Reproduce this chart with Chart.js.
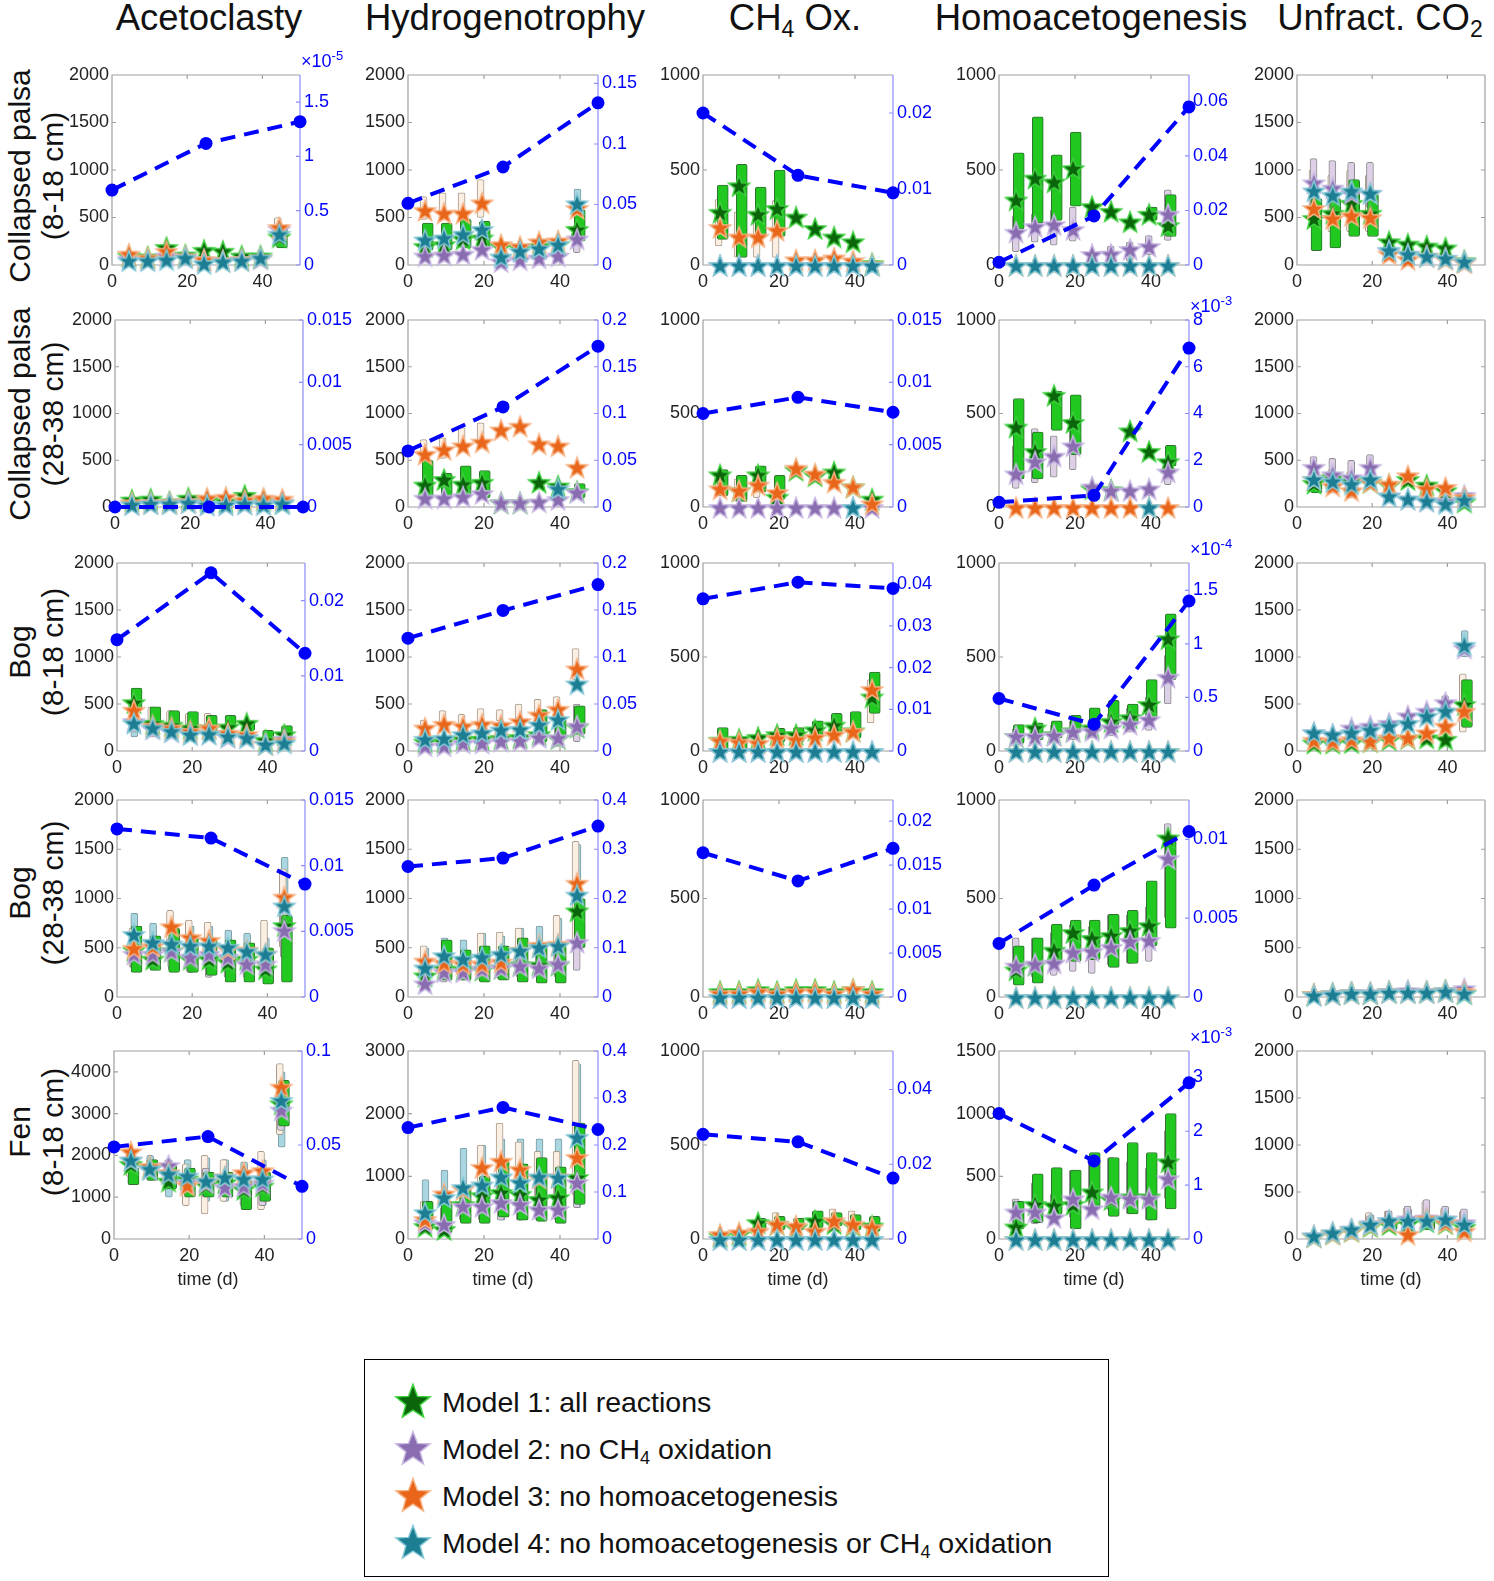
<!DOCTYPE html>
<html>
<head>
<meta charset="utf-8">
<script src="https://cdn.jsdelivr.net/npm/chart.js@4.4.0/dist/chart.umd.min.js"></script>
<style>
body { margin: 0; background: #fff; width: 1494px; height: 1581px; position: relative; overflow: hidden;
       font-family: "Liberation Sans", Arial, sans-serif; color: #111; }
canvas.panel { position: absolute; }
.title { position: absolute; top: -3px; font-size: 36.5px; line-height: 42px; white-space: nowrap; transform: translateX(-50%); }
.title sub { font-size: 23px; vertical-align: -7px; line-height: 0; }
.rowlab { position: absolute; font-size: 30px; line-height: 33px; text-align: center; white-space: nowrap;
          transform: translate(-50%, -50%) rotate(-90deg); }
.exp { position: absolute; font-size: 18px; color: #00f; white-space: nowrap; }
.exp sup { font-size: 13px; }
#legend { position: absolute; left: 364px; top: 1359px; width: 745px; height: 218px; border: 1.5px solid #000; box-sizing: border-box; }
.lg { position: absolute; left: 0; height: 42px; width: 100%; }
.lg canvas { position: absolute; left: 28px; top: 0px; }
.lg span { position: absolute; left: 77px; top: 3px; font-size: 28.5px; line-height: 36px; white-space: nowrap; }
.lg sub { font-size: 18px; vertical-align: -5px; line-height: 0; }
</style>
</head>
<body>
<div id="legend"></div>
<script>
// sampling days of the incubation (stars and range bars)
const days = [4.5, 9.5, 14.5, 19.5, 24.5, 29.5, 34.5, 39.5, 44.5];
// days of the dashed blue curve (right axis)
const lineDays = [0, 25, 50];
const xTicks = [0, 20, 40];

const colTitles = ['Acetoclasty', 'Hydrogenotrophy', 'CH<sub>4</sub> Ox.', 'Homoacetogenesis', 'Unfract. CO<sub>2</sub>'];
const rowTitles = [['Collapsed palsa', '(8-18 cm)'], ['Collapsed palsa', '(28-38 cm)'], ['Bog', '(8-18 cm)'], ['Bog', '(28-38 cm)'], ['Fen', '(8-18 cm)']];
const modelNames = ['Model 1: all reactions', 'Model 2: no CH<sub>4</sub> oxidation', 'Model 3: no homoacetogenesis', 'Model 4: no homoacetogenesis or CH<sub>4</sub> oxidation'];

// left axis ranges per row/column
const leftMax = [[2000, 2000, 1000, 1000, 2000], [2000, 2000, 1000, 1000, 2000], [2000, 2000, 1000, 1000, 2000], [2000, 2000, 1000, 1000, 2000], [4500, 3000, 1000, 1500, 2000]];
const leftStep = [[500, 500, 500, 500, 500], [500, 500, 500, 500, 500], [500, 500, 500, 500, 500], [500, 500, 500, 500, 500], [1000, 1000, 500, 500, 500]];
// right (blue) axis ranges, column 5 has none
const rightMax = [[1.75, 0.157, 0.025, 0.0697], [0.015, 0.2, 0.015, 8], [0.025, 0.2, 0.0451, 1.755], [0.015, 0.4, 0.0224, 0.0125], [0.1, 0.4, 0.0503, 3.49]];
const rightStep = [[0.5, 0.05, 0.01, 0.02], [0.005, 0.05, 0.005, 2], [0.01, 0.05, 0.01, 0.5], [0.005, 0.1, 0.005, 0.005], [0.05, 0.1, 0.02, 1]];
const rightExp = [['-5', null, null, null], [null, null, null, '-3'], [null, null, null, '-4'], [null, null, null, null], [null, null, null, '-3']];

// dashed blue curve values at lineDays
const blueLine = [
  [[0.69, 1.12, 1.32], [0.051, 0.081, 0.134], [0.020, 0.0118, 0.0095], [0.001, 0.018, 0.058]],
  [[0, 0, 0], [0.06, 0.107, 0.172], [0.0075, 0.0088, 0.0076], [0.2, 0.5, 6.8]],
  [[0.0148, 0.0237, 0.0130], [0.12, 0.1495, 0.177], [0.0365, 0.0405, 0.039], [0.49, 0.25, 1.4]],
  [[0.0128, 0.0121, 0.0086], [0.265, 0.282, 0.347], [0.0164, 0.0132, 0.0169], [0.0034, 0.0071, 0.0105]],
  [[0.049, 0.0545, 0.028], [0.237, 0.28, 0.233], [0.028, 0.026, 0.0163], [2.33, 1.45, 2.9]]
];

const zeros = [0, 0, 0, 0, 0, 0, 0, 0, 0];
const day40only = [null, null, null, null, null, null, null, 0, null];

// Model 1: all reactions
const starsM1 = [
  [[100, 90, 190, 110, 160, 150, 100, 100, 300], [200, 220, 280, 290, 200, 180, 200, 220, 380], [280, 420, 270, 300, 255, 195, 150, 125, 10], [345, 460, 440, 510, 310, 285, 230, 270, 210], [495, 550, 655, 550, 250, 225, 205, 185, 50]],
  [[80, 90, 60, 100, 80, 60, 130, 80, 50], [240, 300, 250, 270, 50, 50, 270, 230, 170], [175, 90, 175, 55, 200, 170, 190, 110, 45], [430, 300, 600, 455, 100, 95, 410, 300, 245], [260, 320, 280, 270, 240, 300, 240, 180, 60]],
  [[520, 300, 280, 250, 250, 260, 300, 120, 180], [100, 100, 130, 130, 140, 150, 180, 140, 260], [60, 65, 75, 90, 90, 115, 140, 110, 290], [80, 125, 90, 110, 125, 160, 180, 250, 600], [90, 90, 95, 105, 125, 140, 145, 130, 500]],
  [[480, 390, 475, 390, 390, 360, 390, 290, 730], [220, 290, 280, 280, 300, 330, 330, 330, 880], [30, 30, 40, 30, 40, 40, 30, 40, 30], [140, 165, 240, 330, 300, 315, 340, 365, 810], [30, 40, 50, 40, 60, 60, 60, 70, 40]],
  [[1800, 1700, 1400, 1450, 1300, 1360, 1200, 1280, 3250], [210, 160, 560, 700, 750, 720, 640, 670, 990], [18, 27, 90, 81, 63, 100, 85, 75, 72], [100, 280, 270, 280, 380, 320, 340, 340, 620], [30, 60, 90, 140, 160, 170, 190, 170, 130]]
];
// Model 2: no CH4 oxidation
const starsM2 = [
  [[70, 60, 100, 90, 60, 50, 60, 70, 380], [100, 110, 120, 170, 40, 60, 80, 100, 280], zeros, [175, 205, 215, 190, 58, 60, 85, 100, 270], [870, 815, 760, 760, 150, 118, 97, 75, 40]],
  [[40, 50, 50, 60, 30, 30, 40, 40, 60], [100, 100, 115, 150, 50, 50, 60, 85, 160], zeros, [180, 245, 275, 330, 110, 90, 90, 100, 190], [430, 350, 320, 430, 125, 90, 70, 65, 130]],
  [[320, 240, 210, 190, 190, 150, 150, 80, 130], [60, 60, 90, 90, 110, 115, 150, 145, 270], zeros, [80, 80, 85, 105, 110, 125, 145, 170, 395], [200, 180, 250, 270, 300, 380, 430, 520, 1100]],
  [[440, 440, 470, 410, 440, 410, 340, 340, 680], [140, 260, 260, 290, 300, 320, 300, 340, 560], zeros, [160, 170, 175, 230, 235, 255, 285, 290, 705], [30, 40, 50, 50, 60, 70, 60, 70, 90]],
  [[1900, 1680, 1770, 1360, 1360, 1250, 1280, 1350, 3100], [270, 240, 530, 530, 590, 560, 480, 480, 910], zeros, [220, 220, 175, 325, 245, 340, 325, 325, 485], [40, 70, 110, 170, 200, 220, 230, 220, 180]]
];
// Model 3: no homoacetogenesis
const starsM3 = [
  [[120, 80, 150, 90, 60, 50, 60, 80, 400], [580, 550, 550, 660, 220, 200, 250, 260, 600], [200, 150, 150, 185, 30, 30, 40, 25, 5], zeros, [600, 495, 525, 505, 120, 65, 97, 65, 30]],
  [[50, 50, 50, 60, 100, 110, 80, 100, 90], [570, 620, 660, 700, 830, 870, 680, 660, 430], [100, 90, 120, 80, 210, 180, 135, 110, 20], zeros, [300, 230, 180, 270, 250, 340, 200, 215, 110]],
  [[440, 270, 250, 215, 250, 195, 180, 75, 110], [250, 290, 270, 290, 280, 320, 390, 450, 880], [57, 50, 45, 70, 63, 75, 90, 107, 330], zeros, [120, 110, 125, 110, 145, 145, 200, 270, 430]],
  [[500, 520, 720, 610, 580, 490, 480, 440, 1020], [370, 350, 340, 340, 360, 480, 530, 540, 1160], [20, 20, 30, 20, 30, 30, 20, 40, 20], zeros, [30, 30, 40, 40, 50, 50, 50, 60, 60]],
  [[2100, 1750, 1600, 1300, 1400, 1500, 1600, 1650, 3650], [320, 730, 800, 1150, 1250, 1120, 980, 1000, 1310], [27, 36, 45, 81, 72, 45, 100, 81, 63], zeros, [30, 60, 90, 150, 180, 55, 220, 180, 90]]
];
// Model 4: no homoacetogenesis or CH4 oxidation
const starsM4 = [
  [[50, 50, 60, 80, 20, 40, 50, 80, 330], [270, 290, 330, 380, 90, 150, 180, 220, 650], zeros, zeros, [785, 740, 785, 760, 160, 118, 97, 75, 40]],
  [[30, 40, 40, 50, 30, 30, 40, 30, 40], [null, null, null, null, null, null, null, 200, null], day40only, day40only, [300, 280, 250, 300, 120, 90, 70, 40, 80]],
  [[300, 250, 215, 180, 185, 160, 145, 75, 90], [130, 140, 180, 200, 230, 235, 285, 340, 720], zeros, zeros, [200, 180, 200, 230, 270, 300, 375, 430, 1130]],
  [[640, 560, 545, 525, 525, 510, 470, 440, 930], [300, 425, 390, 410, 440, 475, 510, 525, 1040], zeros, zeros, [20, 30, 40, 40, 50, 50, 50, 60, 40]],
  [[1900, 1690, 1570, 1520, 1400, 1490, 1450, 1450, 3330], [430, 670, 830, 870, 1000, 910, 1000, 990, 1630], zeros, zeros, [36, 72, 108, 160, 200, 200, 200, 215, 160]]
];

// range bars: [day index, low, high]
const barsM1 = [
  [[[8, 180, 420]], [[0, 160, 440], [1, 160, 440], [2, 180, 480], [3, 180, 460], [8, 250, 580]], [[0, 135, 420], [1, 40, 530], [2, 150, 410], [3, 150, 500]], [[0, 190, 590], [1, 220, 780], [2, 235, 580], [3, 310, 700], [7, 235, 305], [8, 150, 370]], [[0, 150, 700], [1, 180, 700], [2, 300, 900], [3, 300, 750]]],
  [[], [[0, 100, 500], [1, 100, 360], [2, 100, 440], [3, 100, 390], [8, 100, 250]], [[0, 60, 200], [1, 30, 170], [2, 80, 220], [3, 40, 170]], [[0, 150, 580], [1, 150, 400], [2, 410, 620], [3, 280, 600], [8, 220, 330]], [[0, 150, 320]]],
  [[[0, 450, 670], [1, 300, 470], [2, 250, 430], [3, 250, 420], [4, 200, 380], [5, 250, 380], [6, 220, 320], [7, 120, 220], [8, 150, 270]], [[6, 100, 440], [7, 150, 350], [8, 180, 480]], [[0, 0, 125], [1, 0, 60], [3, 50, 120], [4, 50, 125], [5, 80, 160], [6, 90, 200], [7, 70, 210], [8, 200, 420]], [[0, 40, 140], [1, 60, 150], [2, 70, 160], [3, 100, 190], [4, 120, 230], [5, 140, 270], [6, 150, 250], [7, 180, 380], [8, 380, 730]], [[8, 250, 760]]],
  [[[0, 250, 720], [1, 270, 620], [2, 250, 700], [3, 250, 620], [4, 220, 600], [5, 150, 580], [6, 150, 550], [7, 130, 500], [8, 150, 830]], [[1, 170, 580], [2, 170, 480], [3, 150, 520], [4, 170, 520], [5, 150, 600], [6, 140, 520], [7, 140, 520], [8, 500, 1000]], [], [[0, 60, 260], [1, 70, 300], [2, 170, 370], [3, 180, 390], [4, 190, 390], [5, 150, 420], [6, 170, 440], [7, 260, 590], [8, 350, 820]], []],
  [[[0, 1300, 1700], [1, 1400, 1900], [2, 1200, 1800], [3, 1000, 1700], [4, 1000, 1600], [5, 1000, 1600], [6, 700, 1400], [7, 900, 1600], [8, 2700, 3800]], [[0, 150, 600], [1, 100, 600], [2, 250, 800], [3, 250, 1000], [4, 350, 1250], [5, 300, 1200], [6, 280, 1300], [7, 250, 1150], [8, 550, 1850]], [[2, 50, 110], [3, 50, 120], [4, 50, 110], [5, 60, 150], [6, 70, 140], [7, 50, 130], [8, 40, 120]], [[0, 80, 300], [1, 130, 520], [2, 200, 570], [3, 80, 550], [4, 250, 690], [5, 180, 650], [6, 200, 770], [7, 150, 690], [8, 240, 1000]], [[4, 100, 200], [6, 100, 250]]]
];
const barsM2 = [
  [[], [[8, 130, 420]], [], [[0, 70, 260], [1, 120, 270], [2, 105, 290], [3, 125, 305], [5, 20, 100], [6, 20, 120], [7, 55, 155], [8, 130, 395]], [[0, 600, 1120], [1, 600, 1100], [2, 600, 1080], [3, 600, 1080]]],
  [[], [], [], [[0, 100, 330], [1, 130, 420], [2, 160, 380], [3, 200, 480], [7, 60, 120], [8, 120, 250]], [[0, 300, 540], [1, 200, 520], [2, 150, 500], [3, 250, 560]]],
  [[[0, 200, 350], [1, 170, 330], [3, 130, 300], [4, 150, 300]], [[7, 50, 250], [8, 100, 500]], [], [[0, 30, 120], [1, 40, 130], [2, 50, 140], [3, 60, 160], [4, 70, 170], [5, 80, 200], [6, 100, 230], [7, 110, 290], [8, 250, 510]], [[7, 380, 590]]],
  [[[0, 300, 600], [1, 300, 560], [2, 300, 600], [3, 250, 560], [4, 200, 560], [5, 200, 520], [6, 200, 480], [7, 200, 480], [8, 400, 1050]], [[0, 100, 250], [1, 150, 400], [2, 170, 420], [3, 180, 450], [4, 180, 470], [5, 200, 500], [6, 200, 450], [7, 200, 480], [8, 270, 560]], [], [[0, 90, 300], [1, 100, 300], [2, 110, 330], [3, 130, 370], [4, 120, 360], [5, 160, 420], [6, 170, 420], [7, 180, 460], [8, 400, 880]], []],
  [[[2, 1200, 1900], [4, 1000, 1700], [6, 800, 1500], [7, 800, 1500], [8, 2600, 3700]], [[0, 200, 400], [1, 150, 500], [2, 300, 800], [3, 300, 900], [4, 300, 1000], [5, 300, 1000], [6, 300, 900], [7, 300, 900], [8, 500, 1000]], [], [[0, 100, 320], [1, 120, 450], [2, 130, 360], [3, 170, 550], [4, 220, 620], [5, 230, 650], [6, 200, 620], [7, 150, 570], [8, 320, 870]], [[3, 100, 250], [4, 120, 300], [5, 130, 350], [6, 150, 420], [7, 150, 350], [8, 100, 320]]]
];
const barsM3 = [
  [[[8, 220, 500]], [[0, 480, 720], [1, 480, 760], [2, 480, 760], [3, 500, 900]], [[0, 100, 345], [1, 40, 280], [2, 40, 280], [3, 40, 340]], [], [[0, 400, 1000], [1, 350, 950], [2, 350, 1000], [3, 350, 950]]],
  [[], [[0, 500, 720], [1, 520, 740], [2, 620, 850], [3, 650, 900]], [[0, 60, 160], [1, 30, 150], [2, 50, 170]], [], [[0, 200, 450], [1, 150, 400], [2, 100, 380], [3, 200, 450]]],
  [[[0, 300, 420], [1, 150, 470], [2, 150, 430], [3, 150, 400], [4, 150, 400]], [[0, 200, 330], [1, 250, 430], [2, 250, 390], [3, 300, 450], [4, 320, 440], [5, 350, 500], [6, 400, 550], [7, 440, 580], [8, 760, 1090]], [[8, 150, 380]], [], [[8, 200, 820]]],
  [[[0, 300, 700], [2, 400, 880], [3, 350, 780], [4, 350, 760], [7, 450, 780], [8, 500, 1300]], [[0, 130, 520], [3, 250, 650], [4, 300, 660], [5, 350, 700], [7, 270, 830], [8, 450, 1580]], [], [], []],
  [[[0, 1500, 2100], [3, 800, 1800], [4, 600, 2000], [5, 900, 1900], [7, 700, 2100], [8, 2500, 4200]], [[0, 100, 600], [3, 700, 1500], [4, 500, 1850], [5, 400, 1550], [6, 400, 1400], [7, 400, 1400], [8, 700, 2850]], [[3, 60, 140], [6, 80, 160], [7, 60, 150]], [], [[3, 100, 280], [4, 100, 300], [5, 130, 330], [6, 150, 400], [7, 150, 330], [8, 100, 300]]]
];
const barsM4 = [
  [[], [[8, 500, 800]], [], [], []],
  [[], [], [], [], []],
  [[[0, 150, 400], [1, 150, 350], [2, 150, 330], [3, 120, 300]], [], [], [], [[8, 1000, 1280]]],
  [[[0, 300, 850], [1, 280, 750], [2, 270, 750], [3, 250, 720], [4, 250, 720], [5, 200, 680], [6, 200, 650], [7, 200, 600], [8, 400, 1420]], [[0, 150, 500], [1, 180, 600], [2, 200, 580], [3, 200, 650], [4, 220, 620], [5, 220, 700], [6, 250, 720], [7, 250, 800], [8, 500, 1550]], [], [], []],
  [[[0, 1300, 2000], [1, 1400, 2000], [2, 1000, 1900], [3, 1100, 1900], [4, 900, 1950], [5, 900, 1900], [6, 1100, 1850], [7, 800, 1900], [8, 2200, 4000]], [[0, 150, 950], [1, 200, 1100], [2, 300, 1450], [3, 300, 1500], [4, 300, 1600], [5, 300, 1600], [6, 300, 1600], [7, 300, 1600], [8, 500, 2800]], [], [], [[3, 100, 260], [5, 120, 320]]]
];

// page layout of the plot boxes
const colLeft = [112, 408, 703, 999, 1297];
const colWidth = [188, 190, 190, 190, 188];
const col1Shift = [0, 3, 5, 5, 2];
const rowTop = [75, 320, 563, 800, 1051];
const rowHeight = [190, 187, 188, 197, 188];
const titleCenter = [209, 505, 795, 1091, 1380];
const rowLabelY = [176, 414, 652, 893, 1132];

const FONT = '"Liberation Sans", Arial, sans-serif';
Chart.defaults.font.family = FONT;

// tick positions from an axis range and step
function tickList(max, step) {
    var out = [];
    for (var i = 0; i * step <= max * (1 + 1e-9); i++) out.push({ value: Math.round(i * step * 1e6) / 1e6 });
    return out;
}

// star marker drawn once per colour
function makeStar(fill, edge, r) {
    var size = Math.ceil(r * 2 + 4);
    var c = document.createElement('canvas');
    c.width = size; c.height = size;
    var g = c.getContext('2d');
    g.beginPath();
    for (var i = 0; i < 10; i++) {
        var rr = i % 2 ? r * 0.42 : r;
        var a = -Math.PI / 2 + i * Math.PI / 5;
        g.lineTo(size / 2 + rr * Math.cos(a), size / 2 + 1.5 + rr * Math.sin(a));
    }
    g.closePath();
    g.fillStyle = fill; g.fill();
    g.lineWidth = 1.5; g.strokeStyle = edge; g.stroke();
    return c;
}

var starStyle = [
    { fill: '#0b650b', edge: '#3fcf3f' },
    { fill: '#8a6db0', edge: '#c8b8e2' },
    { fill: '#e8651a', edge: '#f7b487' },
    { fill: '#1c7d93', edge: '#86c9d6' }
];
var barStyle = [
    { fill: '#20c820', edge: '#2f6f2f', off: 0.7, w: 11 },
    { fill: '#dccfe6', edge: '#8a8a8a', off: -0.1, w: 7 },
    { fill: '#fbeee2', edge: '#a89a8a', off: -0.4, w: 7 },
    { fill: '#a9d6e0', edge: '#7a9aa0', off: 0.1, w: 7 }
];
var starSeries = [starsM1, starsM2, starsM3, starsM4];
var barSeries = [barsM1, barsM2, barsM3, barsM4];
var starImg = starStyle.map(function (s) { return makeStar(s.fill, s.edge, 11); });

// grey box with inward ticks, blue right axis line
var boxPlugin = {
    id: 'box',
    beforeDatasetsDraw: function (chart) {
        var ctx = chart.ctx, a = chart.chartArea, sc = chart.scales;
        ctx.save();
        ctx.lineWidth = 1.2;
        ctx.strokeStyle = '#a0a0a0';
        ctx.beginPath();
        ctx.moveTo(a.right, a.top); ctx.lineTo(a.left, a.top);
        ctx.lineTo(a.left, a.bottom); ctx.lineTo(a.right, a.bottom);
        if (!sc.y2) ctx.lineTo(a.right, a.top);
        sc.x.ticks.forEach(function (t) {
            var p = sc.x.getPixelForValue(t.value);
            ctx.moveTo(p, a.bottom); ctx.lineTo(p, a.bottom - 4);
            ctx.moveTo(p, a.top); ctx.lineTo(p, a.top + 4);
        });
        sc.y.ticks.forEach(function (t) {
            var p = sc.y.getPixelForValue(t.value);
            ctx.moveTo(a.left, p); ctx.lineTo(a.left + 4, p);
            if (!sc.y2) { ctx.moveTo(a.right, p); ctx.lineTo(a.right - 4, p); }
        });
        ctx.stroke();
        if (sc.y2) {
            ctx.strokeStyle = '#8c8cff';
            ctx.beginPath();
            ctx.moveTo(a.right, a.top); ctx.lineTo(a.right, a.bottom);
            sc.y2.ticks.forEach(function (t) {
                var p = sc.y2.getPixelForValue(t.value);
                ctx.moveTo(a.right, p); ctx.lineTo(a.right - 4, p);
            });
            ctx.stroke();
        }
        ctx.restore();
    }
};

function initPanel(r, c) {
    var L = colLeft[c] + (c === 0 ? col1Shift[r] : 0);
    var T = rowTop[r], W = colWidth[c], H = rowHeight[r];
    var padL = 62, padR = 62, padT = 16, padB = r === 4 ? 52 : 26;
    var cv = document.createElement('canvas');
    cv.className = 'panel';
    cv.width = W + padL + padR; cv.height = H + padT + padB;
    cv.style.width = cv.width + 'px'; cv.style.height = cv.height + 'px';
    cv.style.left = (L - padL) + 'px'; cv.style.top = (T - padT) + 'px';
    document.body.appendChild(cv);

    var datasets = [];
    if (c < 4) {
        datasets.push({
            type: 'line', yAxisID: 'y2', order: 0, clip: false,
            data: lineDays.map(function (d, i) { return { x: d, y: blueLine[r][c][i] }; }),
            borderColor: '#0000ff', backgroundColor: '#0000ff', borderWidth: 4, borderDash: [15, 9],
            pointRadius: 6.5, pointBorderWidth: 0
        });
    }
    for (var m = 3; m >= 0; m--) {
        datasets.push({
            type: 'line', yAxisID: 'y', order: 4 - m, clip: false, showLine: false,
            data: days.map(function (d, i) { return { x: d, y: starSeries[m][r][c][i] }; }),
            pointStyle: starImg[m], pointRadius: 8
        });
    }
    for (var b = 0; b < 4; b++) {
        (function (b) {
            var st = barStyle[b];
            datasets.push({
                type: 'bar', yAxisID: 'y', order: 5 + b, grouped: false,
                data: barSeries[b][r][c].map(function (e) { return { x: days[e[0]] + st.off, y: [e[1], e[2]] }; }),
                backgroundColor: st.fill, borderColor: st.edge, borderWidth: 1, borderSkipped: false,
                borderRadius: 2, barThickness: st.w
            });
        })(b);
    }

    var tickFont = { family: FONT, size: 18 };
    var plain = function (v) { return String(v); };
    var noGrid = { display: false, drawTicks: false };
    var scales = {
        x: {
            type: 'linear', min: 0, max: 50, offset: false,
            grid: noGrid, border: { display: false },
            afterBuildTicks: function (s) { s.ticks = xTicks.map(function (v) { return { value: v }; }); },
            ticks: { color: '#222', font: tickFont, padding: 6, maxRotation: 0, callback: plain },
            title: { display: r === 4, text: 'time (d)', color: '#222', font: { family: FONT, size: 18 }, padding: { top: 2, bottom: 0 } },
            afterFit: function (s) { s.height = padB; }
        },
        y: {
            type: 'linear', position: 'left', min: 0, max: leftMax[r][c],
            grid: noGrid, border: { display: false },
            afterBuildTicks: function (s) { s.ticks = tickList(leftMax[r][c], leftStep[r][c]); },
            ticks: { color: '#222', font: tickFont, padding: 3, callback: plain },
            afterFit: function (s) { s.width = padL; }
        }
    };
    if (c < 4) {
        scales.y2 = {
            type: 'linear', position: 'right', min: 0, max: rightMax[r][c],
            grid: noGrid, border: { display: false },
            afterBuildTicks: function (s) { s.ticks = tickList(rightMax[r][c], rightStep[r][c]); },
            ticks: { color: '#0000ff', font: tickFont, padding: 4, callback: plain },
            afterFit: function (s) { s.width = padR; }
        };
    }

    new Chart(cv.getContext('2d'), {
        type: 'bar',
        data: { datasets: datasets },
        options: {
            responsive: false,
            animation: false,
            layout: { padding: { top: padT, left: 0, right: c === 4 ? padR : 0, bottom: 0 } },
            plugins: { legend: { display: false }, tooltip: { enabled: false } },
            scales: scales
        },
        plugins: [boxPlugin]
    });

    if (c < 4 && rightExp[r][c]) {
        var ex = document.createElement('div');
        ex.className = 'exp';
        ex.innerHTML = '&times;10<sup>' + rightExp[r][c] + '</sup>';
        ex.style.left = (L + W + 1) + 'px';
        ex.style.top = (T - 27) + 'px';
        document.body.appendChild(ex);
    }
}

// column titles
colTitles.forEach(function (t, c) {
    var d = document.createElement('div');
    d.className = 'title';
    d.innerHTML = t;
    d.style.left = titleCenter[c] + 'px';
    document.body.appendChild(d);
});

// row titles
rowTitles.forEach(function (t, r) {
    var d = document.createElement('div');
    d.className = 'rowlab';
    d.innerHTML = t[0] + '<br>' + t[1];
    d.style.left = '36px';
    d.style.top = rowLabelY[r] + 'px';
    document.body.appendChild(d);
});

for (var r = 0; r < 5; r++) {
    for (var c = 0; c < 5; c++) initPanel(r, c);
}

// legend
var legend = document.getElementById('legend');
modelNames.forEach(function (name, i) {
    var row = document.createElement('div');
    row.className = 'lg';
    row.style.top = (21 + i * 47) + 'px';
    var s = makeStar(starStyle[i].fill, starStyle[i].edge, 18);
    row.appendChild(s);
    var sp = document.createElement('span');
    sp.innerHTML = name;
    row.appendChild(sp);
    legend.appendChild(row);
});
</script>
</body>
</html>
